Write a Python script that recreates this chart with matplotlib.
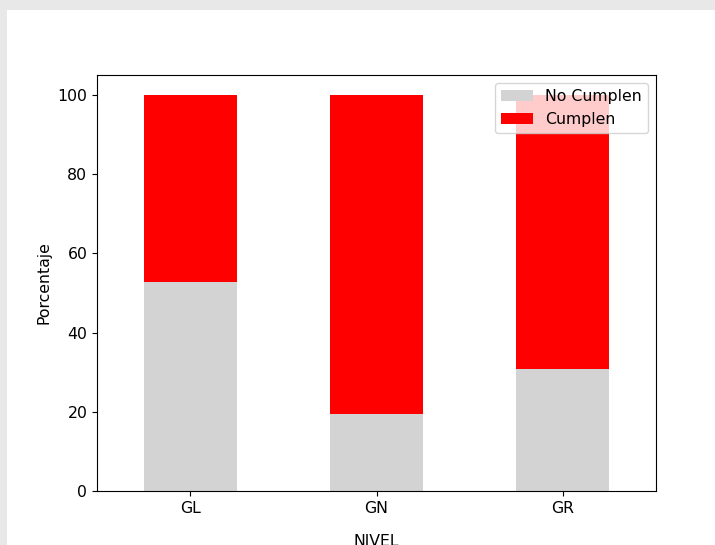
import matplotlib
matplotlib.use('Agg')
import matplotlib.pyplot as plt
from matplotlib.patches import Rectangle

# Datos
niveles = ['GL', 'GN', 'GR']
no_cumplen = [52.8, 19.5, 30.9]
cumplen = [100 - v for v in no_cumplen]

plt.rcParams['font.size'] = 11.3

fig = plt.figure(figsize=(7.15, 5.45), dpi=100)
fig.patch.set_facecolor('#e8e8e8')
# white figure area (screenshot offset)
fig.patches.append(Rectangle((7 / 715, 0), 1, 1 - 10 / 545, transform=fig.transFigure,
                             facecolor='white', edgecolor='none', zorder=-1))

ax = fig.add_axes([97 / 715, (545 - 491) / 545, (656 - 97) / 715, (491 - 75) / 545])
x = range(len(niveles))
ax.bar(x, no_cumplen, width=0.5, color='lightgray', label='No Cumplen')
ax.bar(x, cumplen, width=0.5, bottom=no_cumplen, color='red', label='Cumplen')
ax.set_xlim(-0.5, 2.5)
ax.set_xticks(list(x))
ax.set_xticklabels(niveles, rotation=0)
ax.set_xlabel('NIVEL', labelpad=13)
ax.set_ylabel('Porcentaje')
ax.legend(loc='upper right')

fig.savefig('out.png', dpi=100, facecolor=fig.get_facecolor())
